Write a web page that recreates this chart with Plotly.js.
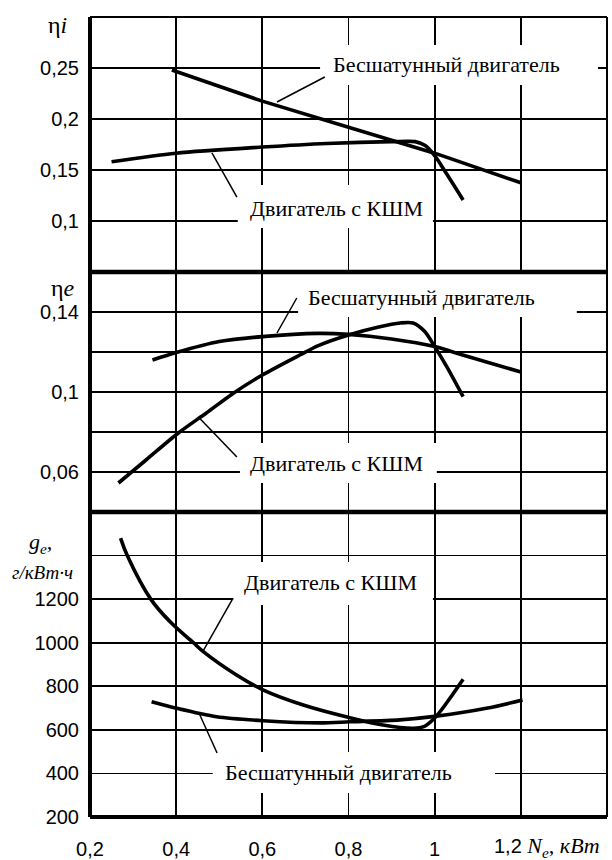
<!DOCTYPE html>
<html>
<head>
<meta charset="utf-8">
<script src="https://cdn.plot.ly/plotly-3.0.1.min.js"></script>
<style>html,body{margin:0;padding:0;background:#fff;}#chart{width:612px;height:860px;}</style>
</head>
<body>
<div id="chart"></div>
<script>
// ---- data ----
const xTicks = [0.2, 0.4, 0.6, 0.8, 1.0, 1.2];
const xTickText = ["0,2", "0,4", "0,6", "0,8", "1", ""];
const xLastTick = "1,2";
const xTitle = "N<sub>e</sub>, кВт";

const etaITicks = [0.1, 0.15, 0.2, 0.25];
const etaITickText = ["0,1", "0,15", "0,2", "0,25"];
const etaETicks = [0.06, 0.08, 0.1, 0.12, 0.14];
const etaETickText = ["0,06", "", "0,1", "", "0,14"];
const geTicks = [200, 400, 600, 800, 1000, 1200, 1400];
const geTickText = ["200", "400", "600", "800", "1000", "1200", ""];

const labelBes = "Бесшатунный двигатель";
const labelKshm = "Двигатель с КШМ";

// Panel 1: indicated efficiency
const etaI_bes_x = [0.39, 0.6, 0.8, 1.0, 1.2];
const etaI_bes_y = [0.248, 0.2175, 0.192, 0.1665, 0.1375];
const etaI_kshm_x = [0.25, 0.4, 0.6, 0.75, 0.9, 0.955, 0.978, 1.0, 1.028, 1.066];
const etaI_kshm_y = [0.158, 0.1665, 0.1725, 0.176, 0.1778, 0.1778, 0.174, 0.164, 0.146, 0.1206];

// Panel 2: effective efficiency
const etaE_bes_x = [0.345, 0.4, 0.5, 0.6, 0.73, 0.8, 0.9, 1.0, 1.065, 1.2];
const etaE_bes_y = [0.116, 0.1197, 0.1252, 0.1277, 0.1293, 0.1288, 0.1265, 0.1227, 0.1185, 0.110];
const etaE_kshm_x = [0.266, 0.33, 0.405, 0.47, 0.532, 0.6, 0.687, 0.73, 0.8, 0.87, 0.92, 0.95, 0.977, 1.0, 1.028, 1.066];
const etaE_kshm_y = [0.0545, 0.066, 0.0795, 0.0895, 0.0993, 0.1085, 0.1185, 0.1232, 0.1285, 0.1325, 0.1345, 0.1345, 0.1302, 0.1227, 0.1127, 0.0977];

// Panel 3: specific fuel consumption
const ge_kshm_x = [0.271, 0.2865, 0.341, 0.386, 0.44, 0.463, 0.54, 0.6, 0.695, 0.803, 0.88, 0.95, 0.975, 1.0, 1.03, 1.066];
const ge_kshm_y = [1480, 1400, 1200, 1096, 1000, 959, 852, 785, 714, 656, 622, 607, 615, 655, 730, 832];
const ge_bes_x = [0.343, 0.401, 0.494, 0.602, 0.734, 0.803, 0.919, 1.0, 1.12, 1.204];
const ge_bes_y = [729, 699, 660, 642, 632, 637, 646, 662, 699, 737];

// ---- styles ----
const serif = "Liberation Serif, Times New Roman, serif";
const sans = "Liberation Sans, Arial, sans-serif";

function tr(x, y, ya, shape, sm) {
  return {x: x, y: y, xaxis: "x", yaxis: ya, type: "scatter", mode: "lines",
          line: {color: "#000", width: 3.6, shape: shape || "spline", smoothing: sm || 0.8},
          hoverinfo: "skip", showlegend: false};
}

const data = [
  tr(etaI_bes_x, etaI_bes_y, "y", "linear"),
  tr(etaI_kshm_x, etaI_kshm_y, "y"),
  tr(etaE_bes_x, etaE_bes_y, "y2"),
  tr(etaE_kshm_x, etaE_kshm_y, "y2"),
  tr(ge_kshm_x, ge_kshm_y, "y3", "spline", 1.1),
  tr(ge_bes_x, ge_bes_y, "y3")
];

const d1 = [0.68125, 1], d2 = [0.38125, 0.68125], d3 = [0, 0.38125];

function yax(dom, range, tv, tt) {
  return {domain: dom, range: range, anchor: "x", tickvals: tv, ticktext: tt,
          showgrid: true, gridcolor: "#000", gridwidth: 1.8, zeroline: false,
          showline: false, ticks: "", ticklabelstandoff: 10,
          tickfont: {family: sans, size: 20, color: "#000"}, fixedrange: true};
}

function whiteBox(yref, x0, x1, y0, y1) {
  return {type: "rect", xref: "x", yref: yref, x0: x0, x1: x1, y0: y0, y1: y1,
          fillcolor: "#fff", line: {width: 0}, layer: "between"};
}
function leader(yref, x0, y0, x1, y1) {
  return {type: "line", xref: "x", yref: yref, x0: x0, y0: y0, x1: x1, y1: y1,
          line: {color: "#000", width: 1.5}, layer: "above"};
}
function border(x0, y0, x1, y1, w) {
  return {type: "line", xref: "paper", yref: "paper", x0: x0, y0: y0, x1: x1, y1: y1,
          line: {color: "#000", width: w}, layer: "above"};
}

const shapes = [
  whiteBox("y", 0.734, 1.379, 0.2333, 0.2725),
  whiteBox("y", 0.543, 0.996, 0.0931, 0.1353),
  whiteBox("y2", 0.683, 1.330, 0.1375, 0.16),
  whiteBox("y2", 0.548, 1.005, 0.0545, 0.0745),
  whiteBox("y3", 0.532, 0.996, 1173, 1370),
  whiteBox("y3", 0.485, 1.140, 310, 498),
  leader("y", 0.634, 0.2167, 0.745, 0.2412),
  leader("y", 0.483, 0.1667, 0.541, 0.1235),
  leader("y2", 0.634, 0.1295, 0.680, 0.147),
  leader("y2", 0.455, 0.0868, 0.541, 0.0675),
  leader("y3", 0.462, 960, 0.532, 1205),
  leader("y3", 0.455, 668, 0.495, 494),
  border(0, 0, 0, 1, 4),
  border(1, 0, 1, 1, 2),
  border(0, 1, 1, 1, 2),
  border(0, d1[0], 1, d1[0], 4.5),
  border(0, d2[0], 1, d2[0], 4.5),
  border(0, 0, 1, 0, 4)
];

function lab(text, x, y, yref) {
  return {text: text, x: x, y: y, xref: "x", yref: yref, showarrow: false,
          xanchor: "center", yanchor: "middle",
          font: {family: serif, size: 22, color: "#000"}};
}
function sym(text, x, y, size, anchor) {
  return {text: text, x: x, y: y, xref: "paper", yref: "paper", showarrow: false,
          xanchor: anchor || "center", yanchor: "middle",
          font: {family: serif, size: size, color: "#000"}};
}

const annotations = [
  lab(labelBes, 1.028, 0.253, "y"),
  lab(labelKshm, 0.771, 0.1127, "y"),
  lab(labelBes, 0.970, 0.1475, "y2"),
  lab(labelKshm, 0.773, 0.0645, "y2"),
  lab(labelKshm, 0.759, 1278, "y3"),
  lab(labelBes, 0.776, 402, "y3"),
  sym("η<i>i</i>", -0.062, 0.99, 24),
  sym("η<i>e</i>", -0.052, 0.661, 24),
  sym("<i>g<sub>e</sub>,</i>", -0.095, 0.3425, 22),
  sym("<i>г/кВт·ч</i>", -0.092, 0.306, 19),
  {text: '<span style="font-family:Liberation Sans, Arial, sans-serif;font-size:20px">' + xLastTick +
         '</span> <i>' + xTitle + '</i>',
   x: 0.7776, y: -0.038, xref: "paper", yref: "paper", showarrow: false,
   xanchor: "left", yanchor: "middle",
   font: {family: serif, size: 22, color: "#000"}}
];

const layout = {
  width: 612, height: 860,
  margin: {l: 90, r: 5, t: 17, b: 43},
  paper_bgcolor: "#fff", plot_bgcolor: "#fff",
  showlegend: false,
  xaxis: {range: [0.2, 1.4], anchor: "y3", tickvals: xTicks, ticktext: xTickText,
          showgrid: true, gridcolor: "#000", gridwidth: 1.8, zeroline: false,
          showline: false, ticks: "", ticklabelstandoff: 18,
          tickfont: {family: sans, size: 20, color: "#000"}, fixedrange: true},
  yaxis: yax(d1, [0.05, 0.3], etaITicks, etaITickText),
  yaxis2: yax(d2, [0.04, 0.16], etaETicks, etaETickText),
  yaxis3: yax(d3, [200, 1600], geTicks, geTickText),
  shapes: shapes,
  annotations: annotations
};

Plotly.newPlot("chart", data, layout, {staticPlot: true, displayModeBar: false});
</script>
</body>
</html>
